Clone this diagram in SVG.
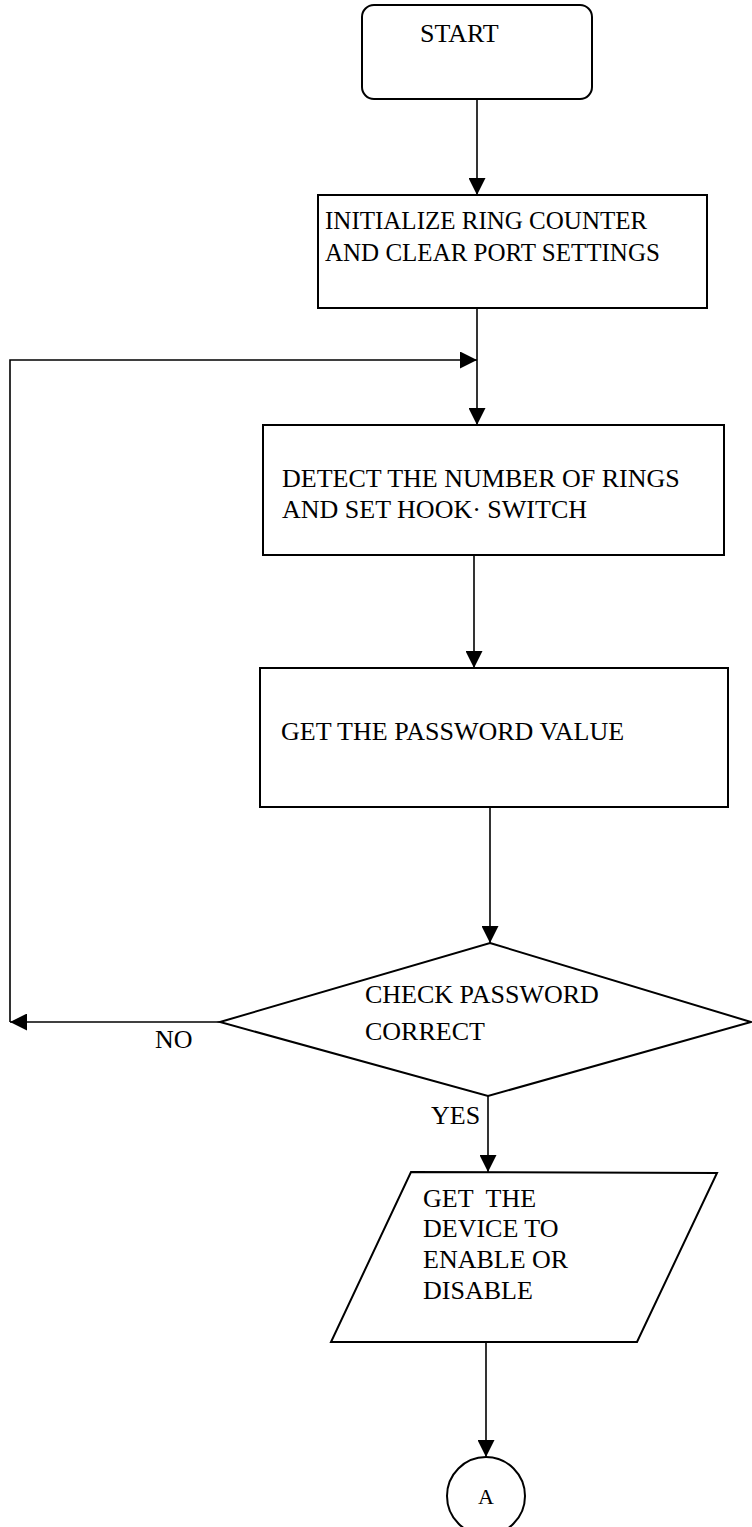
<svg xmlns="http://www.w3.org/2000/svg" width="752" height="1527" viewBox="0 0 752 1527">
<defs>
<marker id="ah" viewBox="0 0 10 10" refX="10" refY="5" markerWidth="18" markerHeight="17" markerUnits="userSpaceOnUse" orient="auto">
<path d="M0,0 L10,5 L0,10 Z" fill="#000"/>
</marker>
<style>
.s{fill:#fff;stroke:#000;stroke-width:2}
.c{fill:none;stroke:#000;stroke-width:1.6}
.t{font-family:"Liberation Serif","Times New Roman",serif;font-size:26px;fill:#000}
</style>
</defs>
<rect width="752" height="1527" fill="#fff"/>
<g id="connectors">
<line class="c" x1="477" y1="99" x2="477" y2="195" marker-end="url(#ah)"/>
<line class="c" x1="477" y1="308" x2="477" y2="425" marker-end="url(#ah)"/>
<polyline class="c" points="10,1022 10,360 477,360" marker-end="url(#ah)"/>
<line class="c" x1="220" y1="1022" x2="10" y2="1022" marker-end="url(#ah)"/>
<line class="c" x1="474" y1="555" x2="474" y2="668" marker-end="url(#ah)"/>
<line class="c" x1="490" y1="807" x2="490" y2="943" marker-end="url(#ah)"/>
<line class="c" x1="488" y1="1096" x2="488" y2="1172" marker-end="url(#ah)"/>
<line class="c" x1="486" y1="1342" x2="486" y2="1457" marker-end="url(#ah)"/>
<text class="t" x="155" y="1048">NO</text>
<text class="t" x="431" y="1124">YES</text>
</g>
<g id="start">
<rect class="s" x="362" y="5" width="230" height="94" rx="12"/>
<text class="t" x="420" y="42">START</text>
</g>
<g id="init">
<rect class="s" x="318" y="195" width="389" height="113"/>
<text class="t" x="325" y="229" style="font-size:25px">INITIALIZE RING COUNTER</text>
<text class="t" x="325" y="261" style="font-size:25px">AND CLEAR PORT SETTINGS</text>
</g>
<g id="detect">
<rect class="s" x="263" y="425" width="461" height="130"/>
<text class="t" x="282" y="487">DETECT THE NUMBER OF RINGS</text>
<text class="t" x="282" y="518">AND SET HOOK· SWITCH</text>
</g>
<g id="password">
<rect class="s" x="260" y="668" width="468" height="139"/>
<text class="t" x="281" y="740">GET THE PASSWORD VALUE</text>
</g>
<g id="check">
<polygon class="s" points="490,943 751,1022 488,1096 220,1022"/>
<text class="t" x="365" y="1003">CHECK PASSWORD</text>
<text class="t" x="365" y="1040">CORRECT</text>
</g>
<g id="device">
<polygon class="s" points="411,1172 717,1173 637,1342 331,1342"/>
<text class="t" x="423" y="1207" xml:space="preserve">GET  THE</text>
<text class="t" x="423" y="1237">DEVICE TO</text>
<text class="t" x="423" y="1268">ENABLE OR</text>
<text class="t" x="423" y="1299">DISABLE</text>
</g>
<g id="a">
<circle class="s" cx="486" cy="1496" r="39"/>
<text class="t" x="486" y="1504" text-anchor="middle" style="font-size:22px">A</text>
</g>
</svg>
